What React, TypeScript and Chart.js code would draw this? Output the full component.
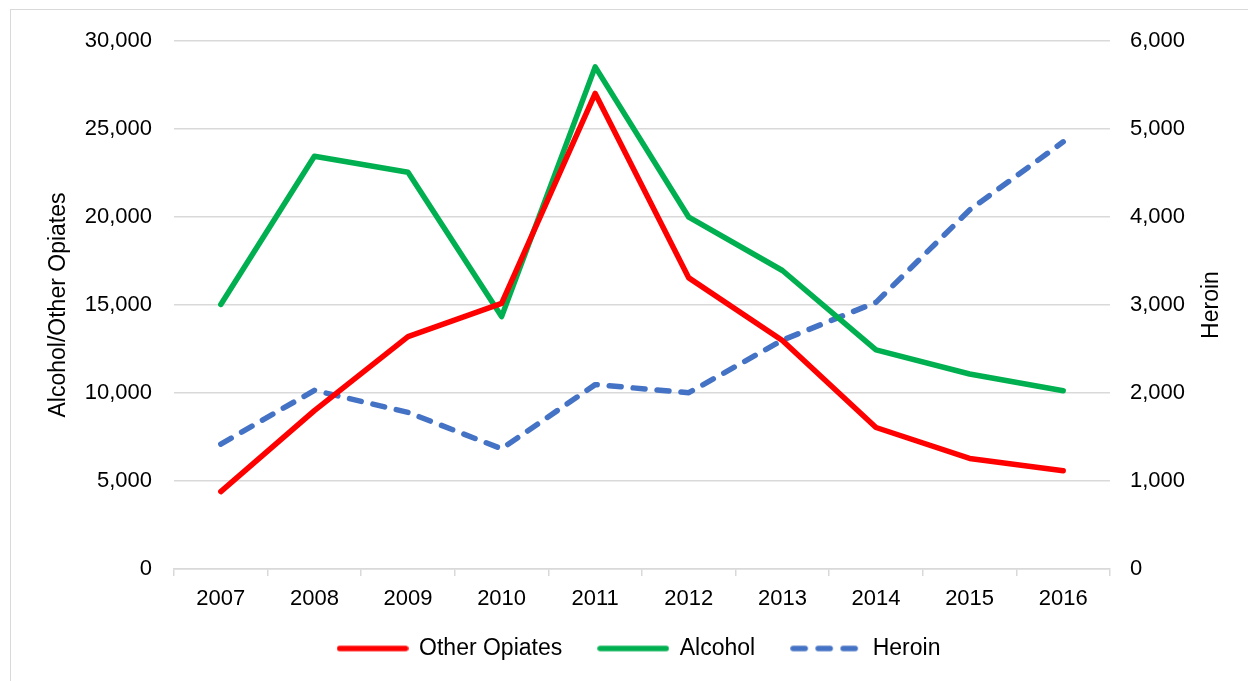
import React, { useEffect, useRef } from "react";
import { Chart, registerables } from "chart.js";

Chart.register(...registerables);

const years = ["2007", "2008", "2009", "2010", "2011", "2012", "2013", "2014", "2015", "2016"];
const otherOpiates = [4400, 9000, 13200, 15090, 27020, 16540, 12980, 8040, 6280, 5580];
const alcohol = [15030, 23450, 22540, 14340, 28530, 19990, 16960, 12450, 11080, 10130];
const heroin = [1420, 2030, 1780, 1366, 2095, 2004, 2600, 3030, 4080, 4854];

const leftTicks = { min: 0, max: 30000, step: 5000 };
const rightTicks = { min: 0, max: 6000, step: 1000 };

const FONT = "'Liberation Sans', Arial, sans-serif";

const rightTitlePlugin = {
  id: "rightTitle",
  afterLayout(chart: any) {
    if (chart.legend) {
      chart.legend.top -= 8;
      chart.legend.bottom -= 8;
    }
  },
  afterDraw(chart: any) {
    const { ctx, chartArea } = chart;
    ctx.save();
    ctx.font = `23px ${FONT}`;
    ctx.fillStyle = "#000";
    ctx.textAlign = "center";
    ctx.textBaseline = "middle";
    ctx.translate(1212, (chartArea.top + chartArea.bottom) / 2);
    ctx.rotate(-Math.PI / 2);
    ctx.fillText("Heroin", 0, 0);
    ctx.restore();
  },
};

function makeSample(color: string, dash: number[]) {
  const c = document.createElement("canvas");
  c.width = 72;
  c.height = 8;
  const g = c.getContext("2d")!;
  g.strokeStyle = color;
  g.lineWidth = 5.5;
  g.lineCap = "round";
  g.setLineDash(dash);
  g.beginPath();
  g.moveTo(3, 4);
  g.lineTo(69, 4);
  g.stroke();
  return c;
}

export default function App() {
  const ref = useRef<HTMLCanvasElement>(null);
  useEffect(() => {
    if (!ref.current) return;
    const fmt = (v: any) => Number(v).toLocaleString("en-US");
    const samples = [
      makeSample("#FF0000", []),
      makeSample("#00B050", []),
      makeSample("#4472C4", [12, 13]),
    ];
    const chart = new Chart(ref.current, {
      type: "line",
      data: {
        labels: years,
        datasets: [
          {
            label: "Other Opiates",
            data: otherOpiates,
            borderColor: "#FF0000",
            backgroundColor: "#FF0000",
            borderWidth: 5.5,
            pointRadius: 0,
            tension: 0,
            borderCapStyle: "round",
            borderJoinStyle: "round",
            yAxisID: "y",
          },
          {
            label: "Alcohol",
            data: alcohol,
            borderColor: "#00B050",
            backgroundColor: "#00B050",
            borderWidth: 5.5,
            pointRadius: 0,
            tension: 0,
            borderCapStyle: "round",
            borderJoinStyle: "round",
            yAxisID: "y",
          },
          {
            label: "Heroin",
            data: heroin,
            borderColor: "#4472C4",
            backgroundColor: "#4472C4",
            borderWidth: 5.5,
            borderDash: [12, 12],
            pointRadius: 0,
            tension: 0,
            borderCapStyle: "round",
            borderJoinStyle: "round",
            yAxisID: "y1",
          },
        ],
      },
      options: {
        responsive: false,
        animation: false,
        devicePixelRatio: 1,
        layout: { padding: { left: 40, right: 10, top: 41, bottom: 3 } },
        plugins: {
          tooltip: { enabled: false },
          legend: {
            position: "bottom",
            labels: {
              usePointStyle: true,
              pointStyleWidth: 70,
              padding: 36,
              color: "#000",
              font: { family: FONT, size: 23 },
              generateLabels: (ch: any) => {
                const items = Chart.defaults.plugins.legend.labels.generateLabels(ch);
                return items.map((it: any, i: number) => ({ ...it, pointStyle: samples[i], lineWidth: 0 }));
              },
            },
          },
        },
        scales: {
          x: {
            type: "category",
            offset: true,
            grid: {
              offset: true,
              drawOnChartArea: false,
              drawTicks: true,
              tickLength: 7,
              color: "#d9d9d9",
              lineWidth: 1.5,
            },
            border: { color: "#d9d9d9", width: 1.5 },
            ticks: { padding: 10, color: "#000", font: { family: FONT, size: 22 } },
            afterFit: (s: any) => { s.height = 40; },
          },
          y: {
            position: "left",
            min: leftTicks.min,
            max: leftTicks.max,
            ticks: {
              stepSize: leftTicks.step,
              padding: 22,
              color: "#000",
              font: { family: FONT, size: 22 },
              callback: fmt,
            },
            grid: { color: "#d9d9d9", lineWidth: 1.5, drawTicks: false },
            border: { display: false },
            title: {
              display: true,
              text: "Alcohol/Other Opiates",
              color: "#000",
              font: { family: FONT, size: 23 },
              padding: { top: 5, bottom: 0 },
            },
            afterFit: (s: any) => { s.width = 134; },
          },
          y1: {
            position: "right",
            min: rightTicks.min,
            max: rightTicks.max,
            ticks: {
              stepSize: rightTicks.step,
              padding: 20,
              color: "#000",
              font: { family: FONT, size: 22 },
              callback: fmt,
            },
            grid: { drawOnChartArea: false, drawTicks: false },
            border: { display: false },
            afterFit: (s: any) => { s.width = 128; },
          },
        },
      },
      plugins: [rightTitlePlugin],
    });
    return () => chart.destroy();
  }, []);
  return (
    <div style={{ position: "absolute", left: 0, top: 0, width: 1248, height: 681, overflow: "hidden", background: "#fff" }}>
      <div style={{ position: "absolute", left: 10, top: 9, width: 1300, height: 700, border: "1.5px solid #d9d9d9", boxSizing: "border-box" }} />
      <canvas ref={ref} width={1248} height={681} style={{ position: "absolute", left: 0, top: 0, width: 1248, height: 681 }} />
    </div>
  );
}
